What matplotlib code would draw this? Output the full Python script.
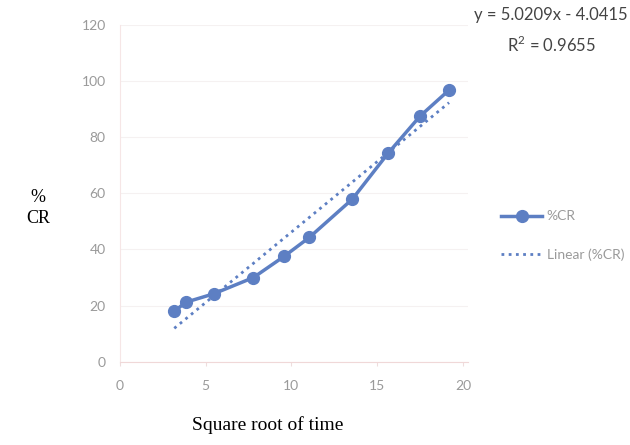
import matplotlib.pyplot as plt
from matplotlib import font_manager

# square root of time vs %CR
sqrt_time = [3.18, 3.85, 5.47, 7.79, 9.59, 11.05, 13.55, 15.64, 17.50, 19.19]
cr = [18.0, 21.2, 24.2, 30.0, 37.6, 44.3, 57.9, 74.3, 87.5, 96.8]
slope, intercept = 5.0209, -4.0415
eq_text = 'y = 5.0209x - 4.0415'
r2_text = 'R$^2$ = 0.9655'

blue = '#5d7fc3'
grey = '#9a9a9a'
names = {f.name for f in font_manager.fontManager.ttflist}
sans = 'Lato' if 'Lato' in names else 'DejaVu Sans'
plt.rcParams['mathtext.fontset'] = 'custom'
plt.rcParams['mathtext.rm'] = sans

fig = plt.figure(figsize=(6.3, 4.45), dpi=100)
ax = fig.add_axes([0.19, 0.187, 0.553, 0.757])

ax.plot(sqrt_time, cr, color=blue, lw=2.5, marker='o', ms=8.5,
        label='%CR', zorder=3)

# linear trend line
xs = [min(sqrt_time), max(sqrt_time)]
ax.plot(xs, [slope * x + intercept for x in xs], color=blue, lw=2,
        ls=(0, (1, 1.6)), label='Linear (%CR)', zorder=2)

ax.set_xlim(0, 20.3)
ax.set_ylim(0, 120)
ax.set_xticks([0, 5, 10, 15, 20])
ax.set_yticks(range(0, 121, 20))
ax.grid(axis='y', color='#f5f1f1', lw=0.8)
ax.set_axisbelow(True)
for s in ['top', 'right']:
    ax.spines[s].set_visible(False)
ax.spines['left'].set_color('#f6e6e6')
ax.spines['bottom'].set_color('#f0d8d8')
ax.tick_params(axis='y', length=0, pad=10, labelsize=10, labelcolor=grey)
ax.tick_params(axis='x', length=3, color='#eedddd', pad=10, labelsize=10,
               labelcolor=grey)
for lab in ax.get_xticklabels() + ax.get_yticklabels():
    lab.set_family(sans)

fig.text(0.06, 0.532, '%\nCR', ha='center', va='center', fontsize=13,
         family='Liberation Serif', linespacing=1.3)
fig.text(0.425, 0.045, 'Square root of time', ha='center', va='center',
         fontsize=14, family='Liberation Serif')

fig.text(0.875, 0.967, eq_text, ha='center', va='center', fontsize=12,
         color='#444444', family=sans)
fig.text(0.875, 0.898, r2_text, ha='center', va='center', fontsize=12,
         color='#444444', family=sans)

fig.legend(loc='center left', bbox_to_anchor=(0.775, 0.47), frameon=False,
           handlelength=3, handletextpad=0.3, labelspacing=1.9,
           labelcolor=grey, prop={'family': sans, 'size': 10})

fig.savefig('out.png', dpi=100)
